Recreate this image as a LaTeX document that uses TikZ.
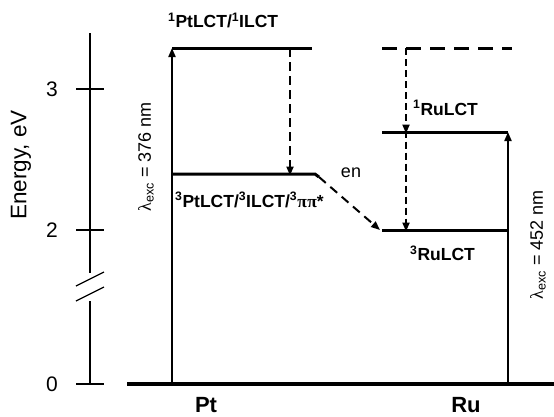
\documentclass[tikz,border=0pt]{standalone}
\usepackage{fontspec}
\setmainfont{Liberation Sans}
\newfontfamily\grk{Liberation Serif}
\usetikzlibrary{arrows.meta}
\begin{document}
\begin{tikzpicture}[x=1pt,y=-1pt,
  level/.style={line width=3pt},
  base/.style={line width=4pt},
  axisline/.style={line width=1.3pt},
  excite/.style={line width=2pt,-{Triangle[length=9pt,width=7pt]}},
  relax/.style={line width=2pt,dash pattern=on 9pt off 5pt,-{Triangle[length=9pt,width=7pt]}},
  dashlevel/.style={line width=3pt,dash pattern=on 15pt off 9pt},
  lab/.style={inner sep=0pt,font=\bfseries\fontsize{17.5}{20}\selectfont},
  num/.style={inner sep=0pt,font=\fontsize{21}{25}\selectfont},
  lam/.style={inner sep=0pt,rotate=90,font=\fontsize{18}{21}\selectfont},
  site/.style={inner sep=0pt,anchor=base,font=\bfseries\fontsize{22}{26}\selectfont}]
\useasboundingbox (0,0) rectangle (554,416);
% axis
\coordinate (atop) at (90,33);
\coordinate (abrk1) at (90,273);
\coordinate (abrk2) at (90,301);
\coordinate (abot) at (90,384);
\draw[axisline] (atop) -- (abrk1);
\draw[axisline] (abrk2) -- (abot);
\coordinate (s1a) at (76,286); \coordinate (s1b) at (104,272);
\coordinate (s2a) at (76,301); \coordinate (s2b) at (104,287);
\draw[axisline] (s1a) -- (s1b);
\draw[axisline] (s2a) -- (s2b);
\coordinate (t3a) at (76,89);  \coordinate (t3b) at (104,89);
\coordinate (t2a) at (76,230); \coordinate (t2b) at (104,230);
\coordinate (t0a) at (76,384); \coordinate (t0b) at (104,384);
\draw[axisline] (t3a) -- (t3b);
\draw[axisline] (t2a) -- (t2b);
\draw[axisline] (t0a) -- (t0b);
\node[num] (n3) at (52,89) {3};
\node[num] (n2) at (52,230) {2};
\node[num] (n0) at (52,384) {0};
\node[inner sep=0pt,rotate=90,font=\fontsize{22.5}{26}\selectfont] (elab) at (21,165) {Energy, eV};
% baseline
\coordinate (b0) at (127,384);
\coordinate (b1) at (554,384);
\draw[base] (b0) -- (b1);
\node[site] (pt) at (206,412) {Pt};
\node[site] (ru) at (466,412) {Ru};
% Pt levels
\coordinate (ptS1l) at (172,48);
\coordinate (ptS1r) at (312,48);
\coordinate (ptT1l) at (172,174);
\coordinate (ptT1r) at (315,174);
\coordinate (ptkink) at (319,177);
\coordinate (ptground) at (172,384);
\draw[level] (ptS1l) -- (ptS1r);
\draw[level] (ptT1l) -- (ptT1r) -- (ptkink);
\draw[excite] (ptground) -- (ptS1l);
\coordinate (ptd1) at (290,48);
\coordinate (ptd2) at (290,174);
\draw[relax] (ptd1) -- ([yshift=-1.5pt]ptd2);
\node[lab,anchor=south west] (ptS1lab) at (168,28) {\textsuperscript{1}PtLCT/\textsuperscript{1}ILCT};
\node[lab,anchor=north west] (ptT1lab) at (175,192) {\textsuperscript{3}PtLCT/\textsuperscript{3}ILCT/\textsuperscript{3}{\grk\bfseries π\kern0.5ptπ}*};
\node[lam] (ptlam) at (146,157) {{\grk λ}\textsubscript{exc} = 376 nm};
% Ru levels
\coordinate (ruS1l) at (382,48);
\coordinate (ruS1r) at (512,48);
\coordinate (ruS2l) at (382,132);
\coordinate (ruS2r) at (508,132);
\coordinate (ruT1l) at (382,230);
\coordinate (ruT1r) at (508,230);
\coordinate (ruground) at (508,384);
\draw[dashlevel] (ruS1l) -- (ruS1r);
\draw[level] (ruS2l) -- (ruS2r);
\draw[level] (ruT1l) -- (ruT1r);
\draw[excite] (ruground) -- (ruS2r);
\coordinate (rud1) at (406,48);
\coordinate (rud2) at (406,132);
\coordinate (rud3) at (406,230);
\draw[relax,dash pattern=on 7pt off 4pt] (rud1) -- ([yshift=-1.5pt]rud2);
\draw[relax,dash pattern=on 7pt off 4pt] ([yshift=1.5pt]rud2) -- ([yshift=-1.5pt]rud3);
\node[lab,anchor=west] (ruS2lab) at (413,108) {\textsuperscript{1}RuLCT};
\node[lab,anchor=west] (ruT1lab) at (410,253) {\textsuperscript{3}RuLCT};
\node[lam] (rulam) at (538,245) {{\grk λ}\textsubscript{exc} = 452 nm};
% energy transfer
\draw[relax,dash pattern=on 9pt off 6pt] (ptkink) -- ([xshift=-2pt]ruT1l);
\node[inner sep=0pt,font=\fontsize{18}{21}\selectfont] (en) at (351,173) {en};
\end{tikzpicture}
\end{document}
